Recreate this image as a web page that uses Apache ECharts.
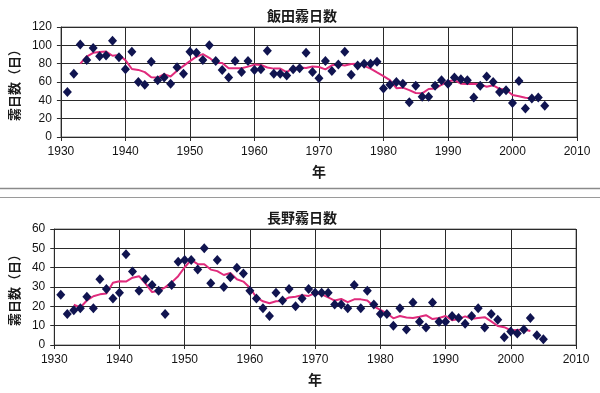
<!DOCTYPE html>
<html>
<head>
<meta charset="utf-8">
<script src="https://cdn.jsdelivr.net/npm/echarts@6/dist/echarts.min.js"></script>
<style>
html,body{margin:0;padding:0;background:#fff;}
#chart{width:600px;height:393px;}
</style>
</head>
<body>
<div id="chart"></div>
<script>
// ---- data ----
var years = [1931,1932,1933,1934,1935,1936,1937,1938,1939,1940,
  1941,1942,1943,1944,1945,1946,1947,1948,1949,1950,
  1951,1952,1953,1954,1955,1956,1957,1958,1959,1960,
  1961,1962,1963,1964,1965,1966,1967,1968,1969,1970,
  1971,1972,1973,1974,1975,1976,1977,1978,1979,1980,
  1981,1982,1983,1984,1985,1986,1987,1988,1989,1990,
  1991,1992,1993,1994,1995,1996,1997,1998,1999,2000,
  2001,2002,2003,2004,2005];
var avgYears = [1933,1934,1935,1936,1937,1938,1939,1940,
  1941,1942,1943,1944,1945,1946,1947,1948,1949,1950,
  1951,1952,1953,1954,1955,1956,1957,1958,1959,1960,
  1961,1962,1963,1964,1965,1966,1967,1968,1969,1970,
  1971,1972,1973,1974,1975,1976,1977,1978,1979,1980,
  1981,1982,1983,1984,1985,1986,1987,1988,1989,1990,
  1991,1992,1993,1994,1995,1996,1997,1998,1999,2000,
  2001,2002,2003];

// 飯田 (Iida) fog days
var iidaDays = [49,69,101,84,97,88,89,105,87,74,
  93,60,57,82,62,65,58,76,69,93,
  92,84,100,83,73,65,83,71,83,73,
  74,94,69,69,67,74,75,92,71,64,
  83,72,79,93,68,78,80,80,82,53,
  57,60,58,38,56,44,44,56,62,58,
  65,63,62,43,56,66,60,49,51,37,
  61,31,42,43,34];
// 飯田 smoothed line
var iidaAvg = [80,87.8,91.8,92.6,93.2,88.6,89.6,83.8,
  74.2,73.2,70.8,65.2,64.8,68.6,66,72.2,77.6,82.8,
  87.6,90.4,86.4,81,80.8,75,75,75,76.8,79,
  78.6,75.8,74.6,74.6,70.8,75.4,75.8,75.2,77,76.4,
  73.8,78.2,79,78,79.6,79.8,77.6,74.6,70.4,66.4,
  62,53.2,53.8,51.2,48,47.6,52.4,52.8,57,60.8,
  62,58.2,57.8,58,57.4,54.8,56.4,52.6,51.6,45.8,
  44.4,42.8,42.2];

// 長野 (Nagano) fog days
var naganoDays = [26,16,18,19,25,19,34,29,24,27,
  47,38,28,34,31,28,16,31,43,44,
  44,39,50,32,44,30,35,40,37,28,
  24,19,15,27,23,29,20,24,29,27,
  27,27,21,21,19,31,19,28,21,16,
  16,10,19,8,22,12,9,22,12,12,
  15,14,11,15,19,9,16,13,4,7,
  6,8,14,5,3];
var naganoAvg = [20.8,19.4,23,25.2,26.2,26.6,32.2,33,
  32.8,34.8,35.6,31.8,27.4,28,29.8,32.4,35.6,40.2,
  44,41.8,41.8,39,38.2,36.2,37.2,34,32.8,29.6,
  24.6,22.6,21.6,22.6,22.8,24.6,25,25.8,25.4,26.8,
  26.2,24.6,23,23.8,22.2,23.6,23.6,23,20,18.2,
  16.4,13.8,15,14.2,14,14.6,15.4,13.4,14,15,
  12.8,13.4,14.8,13.6,14,14.4,12.2,9.8,9.2,7.6,
  7.8,8,7.2];

var xTicks = [1930,1940,1950,1960,1970,1980,1990,2000,2010];
var iidaTicks = [0,20,40,60,80,100,120];
var naganoTicks = [0,10,20,30,40,50,60];
var titles = ['飯田霧日数','長野霧日数'];
var yName = '霧日数（日）';
var xName = '年';

// ---- build ----
function pairs(xs, ys){ return xs.map(function(x,i){ return [x, ys[i]]; }); }

var labelFont = {fontFamily:'Liberation Sans, Arial, sans-serif', fontSize:12, color:'#141414'};
var cjkFont = 'Noto Sans CJK JP, sans-serif';
var gridColor = '#2a2a2a';
var dotColor = '#101450';
var lineColor = '#e02b7c';

function xAxisCfg(gi){
  return {
    gridIndex: gi, type:'value', min: xTicks[0], max: xTicks[xTicks.length-1],
    interval: xTicks[1]-xTicks[0],
    name: xName, nameLocation:'middle', nameGap: 28,
    nameTextStyle:{fontFamily:cjkFont, fontSize:14, fontWeight:'bold', color:'#1a1a1a'},
    axisLine:{show:true, onZero:false, lineStyle:{color:gridColor, width:1}},
    axisTick:{show:true, length:4, lineStyle:{color:gridColor}},
    axisLabel: Object.assign({margin:9, formatter:function(v){return String(v);}}, labelFont),
    splitLine:{show:true, lineStyle:{color:gridColor, width:1}}
  };
}
function yAxisCfg(gi, ticks){
  return {
    gridIndex: gi, type:'value', min: ticks[0], max: ticks[ticks.length-1],
    interval: ticks[1]-ticks[0],
    name: yName, nameLocation:'middle', nameGap: 33, nameRotate: 90,
    nameTextStyle:{fontFamily:cjkFont, fontSize:13, fontWeight:'bold', color:'#1a1a1a'},
    axisLine:{show:true, lineStyle:{color:gridColor, width:1}},
    axisTick:{show:true, length:4, lineStyle:{color:gridColor}},
    axisLabel: Object.assign({margin:9, formatter:function(v){return String(v);}}, labelFont),
    splitLine:{show:true, lineStyle:{color:gridColor, width:1}}
  };
}

var option = {
  animation:false,
  backgroundColor:'#ffffff',
  title:[
    {text:titles[0], left:262, top:4, textStyle:{fontFamily:cjkFont, fontSize:14, fontWeight:'bold', color:'#1a1a1a'}},
    {text:titles[1], left:262, top:206, textStyle:{fontFamily:cjkFont, fontSize:14, fontWeight:'bold', color:'#1a1a1a'}}
  ],
  grid:[
    {left:53, top:27, width:524, height:110, show:true, borderColor:'#777', borderWidth:1, backgroundColor:'#fff'},
    {left:53, top:229, width:523, height:116, show:true, borderColor:'#777', borderWidth:1, backgroundColor:'#fff'}
  ],
  xAxis:[xAxisCfg(0), xAxisCfg(1)],
  yAxis:[yAxisCfg(0, iidaTicks), yAxisCfg(1, naganoTicks)],
  graphic:[
    {type:'line', shape:{x1:0, y1:188.5, x2:600, y2:188.5}, style:{stroke:'#8a8a8a', lineWidth:1.5}},
    {type:'line', shape:{x1:0, y1:197.5, x2:600, y2:197.5}, style:{stroke:'#9a9a9a', lineWidth:1}}
  ],
  series:[
    {type:'line', xAxisIndex:0, yAxisIndex:0, data:pairs(avgYears, iidaAvg), showSymbol:false,
      lineStyle:{color:lineColor, width:2}, z:2},
    {type:'scatter', xAxisIndex:0, yAxisIndex:0, data:pairs(years, iidaDays), symbol:'diamond', symbolSize:[9,10],
      itemStyle:{color:dotColor, opacity:1}, z:3},
    {type:'line', xAxisIndex:1, yAxisIndex:1, data:pairs(avgYears, naganoAvg), showSymbol:false,
      lineStyle:{color:lineColor, width:2}, z:2},
    {type:'scatter', xAxisIndex:1, yAxisIndex:1, data:pairs(years, naganoDays), symbol:'diamond', symbolSize:[9,10],
      itemStyle:{color:dotColor, opacity:1}, z:3}
  ]
};
var chart = echarts.init(document.getElementById('chart'), null, {renderer:'canvas'});
chart.setOption(option);
</script>
</body>
</html>
